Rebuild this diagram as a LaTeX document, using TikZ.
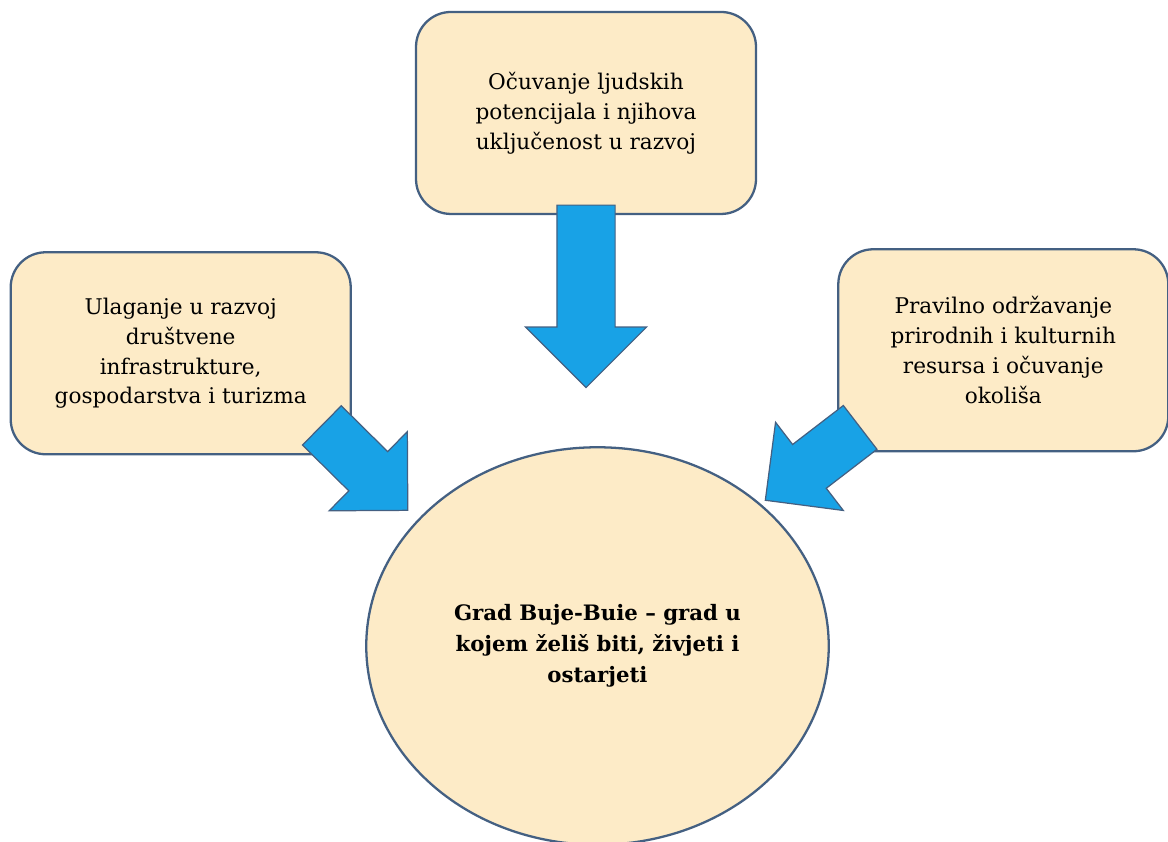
\documentclass[tikz,border=0pt]{standalone}
\usepackage{fontspec}
\setmainfont{DejaVu Serif}
\usetikzlibrary{shapes.geometric, shapes.arrows, positioning, calc}
\definecolor{boxfill}{RGB}{253,235,199}
\definecolor{boxline}{RGB}{68,96,130}
\definecolor{arrowblue}{RGB}{24,162,230}
\tikzstyle{goal} = [rectangle, rounded corners=0.7cm, draw=boxline, line width=1.3pt, fill=boxfill, align=center, minimum width=6.8cm, minimum height=4.04cm, font=\fontsize{12.3}{17}\selectfont]
\tikzstyle{vision} = [ellipse, draw=boxline, line width=1.3pt, fill=boxfill, align=center, minimum width=9.25cm, minimum height=7.95cm, font=\bfseries\fontsize{12.1}{17.5}\selectfont]
\tikzstyle{bigarrow} = [single arrow, draw=boxline, line width=0.7pt, fill=arrowblue, inner sep=0pt, inner ysep=0.54cm, single arrow head extend=0.56cm, minimum width=0pt, outer sep=0pt]
\newcommand{\blockarrow}[3][]{%
  \path let \p1=($(#3)-(#2)$), \n1={veclen(\x1,\y1)}, \n2={atan2(\y1,\x1)} in
    node[bigarrow, #1, minimum height=\n1, rotate=\n2, anchor=tail] at (#2) {};}

\begin{document}
\begin{tikzpicture}
	\useasboundingbox (0,0) rectangle (23.36,-16.82);

	% Vision
	\node (city) [vision] at (11.95,-12.92) {Grad Buje-Buie – grad u\\kojem želiš biti, živjeti i\\ostarjeti};

	% Goals
	\node (human) [goal, above=4.62cm of city, xshift=-2.3mm] {Očuvanje ljudskih\\potencijala i njihova\\uključenost u razvoj};
	\node (infra) [goal, below left=0.72cm and 1.26cm of human.south west, anchor=north east] {Ulaganje u razvoj\\društvene\\infrastrukture,\\gospodarstva i turizma};
	\node (nature) [goal, minimum width=6.6cm, below right=0.66cm and 1.6cm of human.south east, anchor=north west] {Pravilno održavanje\\prirodnih i kulturnih\\resursa i očuvanje\\okoliša};

	% Arrow ends
	\coordinate (downtail) at ([yshift=2mm]human.south);
	\coordinate (downtip) at ([yshift=-3.45cm]human.south);
	\coordinate (lefttail) at ($(infra.south east)+(-0.6,0.6)$);
	\coordinate (lefttip) at ($(infra.south east)+(1.12,-1.1)$);
	\coordinate (righttail) at ($(nature.south west)+(0.46,0.5)$);
	\coordinate (righttip) at ($(nature.south west)+(-1.44,-0.96)$);

	% Arrows
	\blockarrow[inner ysep=0.57cm, single arrow head extend=0.63cm]{downtail}{downtip}
	\blockarrow{lefttail}{lefttip}
	\blockarrow{righttail}{righttip}

\end{tikzpicture}
\end{document}
